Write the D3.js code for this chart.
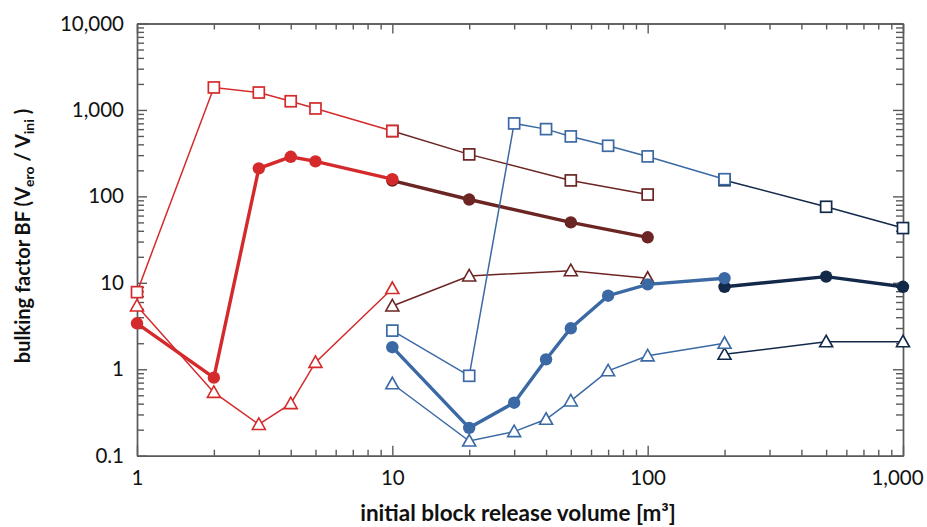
<!DOCTYPE html>
<html>
<head>
<meta charset="utf-8">
<script src="https://cdn.jsdelivr.net/npm/d3@7"></script>
<style>
  body { margin: 0; background: #fff; }
  svg { display: block; }
  .tick text { font-family: Lato, "Open Sans", sans-serif; font-size: 20.5px; fill: #111; }
  .axis path, .axis line { stroke: #5a5a5a; stroke-width: 1.4; }
  .title { font-family: Lato, "Open Sans", sans-serif; font-weight: bold; fill: #111; }
</style>
</head>
<body>
<svg width="927" height="527"></svg>
<script>
// valores
const redX = [1, 2, 3, 4, 5, 10]
const redSquare = [7.8, 1820, 1590, 1260, 1040, 570]
const redCircle = [3.4, 0.80, 211, 287, 254, 158]
const redTriangle = [5.4, 0.54, 0.23, 0.40, 1.2, 8.6]

const darkRedX = [10, 20, 50, 100]
const darkRedSquare = [570, 306, 153, 105]
const darkRedCircle = [152, 92, 50, 33.6]
const darkRedTriangle = [5.4, 12, 13.8, 11.3]

const blueX = [10, 20, 30, 40, 50, 70, 100, 200]
const blueSquare = [2.8, 0.84, 698, 600, 494, 385, 290, 158]
const blueCircle = [1.8, 0.21, 0.41, 1.3, 2.98, 7.1, 9.6, 11.3]
const blueTriangle = [0.68, 0.148, 0.19, 0.264, 0.43, 0.96, 1.43, 2.0]

const navyX = [200, 500, 1000]
const navySquare = [154, 75.8, 43]
const navyCircle = [9.0, 11.8, 9.0]
const navyTriangle = [1.49, 2.08, 2.08]

const xMajor = [1, 10, 100, 1000]
const yMajor = [0.1, 1, 10, 100, 1000, 10000]

// márgenes
const marginTop = 23.5
const marginLeft = 137
const svgWidth = 927
const svgHeight = 527
const chartWidth = 903 - marginLeft
const chartHeight = 455.7 - marginTop

const xScale = d3.scaleLog([1, 1000], [0, chartWidth])
const yScale = d3.scaleLog([0.1, 10000], [chartHeight, 0])

const fmt = d => d < 1 ? d3.format(".1f")(d) : d3.format(",")(d)
const minors = (majors) => {
  const out = []
  for (let i = 0; i < majors.length - 1; i++)
    for (let k = 2; k <= 9; k++) out.push(+(majors[i] * k).toPrecision(3))
  return out
}

const svg = d3.select('svg')
const g = svg.append('g').attr('transform', `translate(${marginLeft}, ${marginTop})`)

// ejes: marcas hacia adentro en los cuatro lados
const axisBottomG = g.append('g').attr('class', 'axis').attr('transform', `translate(0, ${chartHeight})`)
axisBottomG.call(d3.axisBottom(xScale).tickValues(minors(xMajor)).tickSize(-6).tickFormat('').tickSizeOuter(0))
axisBottomG.append('g').call(d3.axisBottom(xScale).tickValues(xMajor).tickSize(-10).tickPadding(15).tickFormat(fmt).tickSizeOuter(0))
// la última etiqueta se corre un poco para que quepa
axisBottomG.selectAll('.tick text').filter(d => d === 1000).attr('dx', -6)

const axisTopG = g.append('g').attr('class', 'axis')
axisTopG.call(d3.axisTop(xScale).tickValues(minors(xMajor)).tickSize(-6).tickFormat('').tickSizeOuter(0))
axisTopG.append('g').call(d3.axisTop(xScale).tickValues(xMajor).tickSize(-10).tickFormat('').tickSizeOuter(0))

const axisLeftG = g.append('g').attr('class', 'axis')
axisLeftG.call(d3.axisLeft(yScale).tickValues(minors(yMajor)).tickSize(-7).tickFormat('').tickSizeOuter(0))
axisLeftG.append('g').call(d3.axisLeft(yScale).tickValues(yMajor).tickSize(-10).tickPadding(13).tickFormat(fmt).tickSizeOuter(0))

const axisRightG = g.append('g').attr('class', 'axis').attr('transform', `translate(${chartWidth}, 0)`)
axisRightG.call(d3.axisRight(yScale).tickValues(minors(yMajor)).tickSize(-7).tickFormat('').tickSizeOuter(0))
axisRightG.append('g').call(d3.axisRight(yScale).tickValues(yMajor).tickSize(-10).tickFormat('').tickSizeOuter(0))

// series
const line = d3.line().x(d => xScale(d[0])).y(d => yScale(d[1]))

function series(xs, ys, color, shape) {
  const pts = xs.map((x, i) => [x, ys[i]])
  const s = g.append('g')
  s.append('path')
    .attr('d', line(pts))
    .attr('fill', 'none')
    .attr('stroke', color)
    .attr('stroke-width', shape === 'circle' ? 3.4 : 1.5)
  const m = s.selectAll('.m').data(pts).join('g')
    .attr('transform', d => `translate(${xScale(d[0])}, ${yScale(d[1])})`)
  if (shape === 'circle') {
    m.append('circle').attr('r', 6.2).attr('fill', color)
  } else if (shape === 'square') {
    m.append('rect').attr('x', -5.5).attr('y', -5.5).attr('width', 11).attr('height', 11)
      .attr('fill', '#fff').attr('stroke', color).attr('stroke-width', 1.7)
  } else {
    m.append('path').attr('d', 'M0,-6.5L6.5,5L-6.5,5Z')
      .attr('fill', '#fff').attr('stroke', color).attr('stroke-width', 1.6)
  }
}

const red = '#d52a2b', darkRed = '#6b2522', blue = '#3b69a4', navy = '#13294a'

series(darkRedX, darkRedTriangle, darkRed, 'triangle')
series(darkRedX, darkRedSquare, darkRed, 'square')
series(darkRedX, darkRedCircle, darkRed, 'circle')
series(redX, redTriangle, red, 'triangle')
series(redX, redSquare, red, 'square')
series(redX, redCircle, red, 'circle')
series(navyX, navyTriangle, navy, 'triangle')
series(navyX, navySquare, navy, 'square')
series(navyX, navyCircle, navy, 'circle')
series(blueX, blueTriangle, blue, 'triangle')
series(blueX, blueSquare, blue, 'square')
series(blueX, blueCircle, blue, 'circle')

// títulos de ejes
svg.append('text')
  .attr('class', 'title')
  .attr('x', 518)
  .attr('y', 521)
  .attr('font-size', '22.5px')
  .attr('text-anchor', 'middle')
  .text('initial block release volume [m³]')

const yl = svg.append('text')
  .attr('class', 'title')
  .attr('font-size', '20px')
  .attr('text-anchor', 'middle')
  .attr('transform', 'translate(30, 236) rotate(-90)')
yl.append('tspan').text('bulking factor BF (V')
yl.append('tspan').attr('font-size', '14px').attr('dy', 4).text('ero')
yl.append('tspan').attr('dy', -4).text(' / V')
yl.append('tspan').attr('font-size', '14px').attr('dy', 4).text('ini')
yl.append('tspan').attr('dy', -4).text(' )')
</script>
</body>
</html>
